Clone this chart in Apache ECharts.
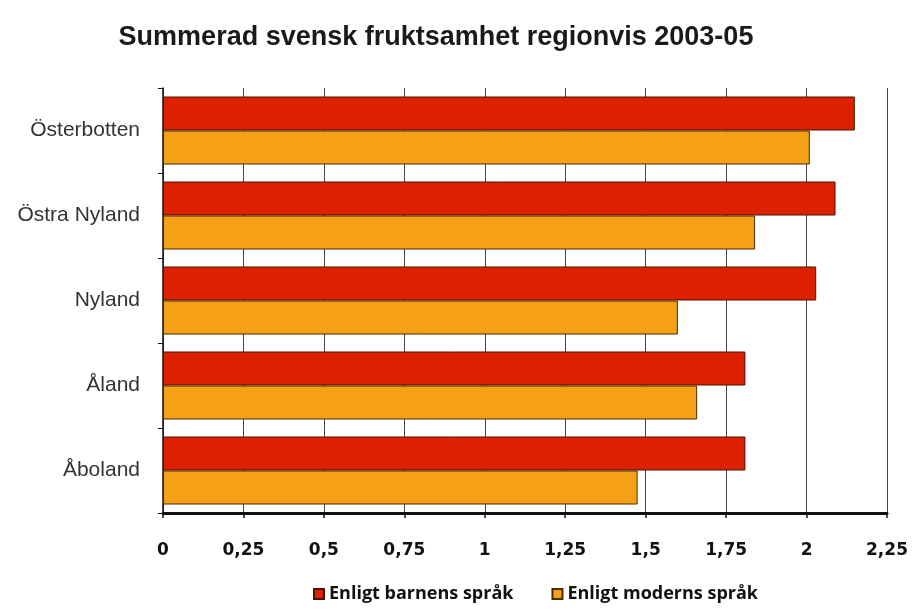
<!DOCTYPE html>
<html lang="sv">
<head>
    <meta charset="UTF-8">
    <title>Summerad svensk fruktsamhet regionvis 2003-05</title>
    <style>
        html, body { margin: 0; padding: 0; background: #fff; }
        #chart { width: 918px; height: 615px; }
    </style>
</head>
<body>
<div id="chart"></div>
<script src="https://cdn.jsdelivr.net/npm/echarts@6/dist/echarts.min.js"></script>
<script type="text/javascript">
    // data
    var regions = ['Österbotten', 'Östra Nyland', 'Nyland', 'Åland', 'Åboland'];
    var barnensSprak = [2.15, 2.09, 2.03, 1.81, 1.81];
    var modernsSprak = [2.01, 1.84, 1.60, 1.66, 1.475];
    var seriesNames = ['Enligt barnens språk', 'Enligt moderns språk'];

    var chart = echarts.init(document.getElementById('chart'));
    var option = {
        backgroundColor: '#fff',
        animation: false,
        title: {
            text: 'Summerad svensk fruktsamhet regionvis 2003-05',
            left: 431,
            textAlign: 'center',
            top: 19,
            textStyle: {
                fontFamily: 'Liberation Sans',
                fontWeight: 'bold',
                fontSize: 27,
                color: '#1a1a1a'
            }
        },
        legend: {
            bottom: 7,
            left: 308,
            itemWidth: 10,
            itemHeight: 10,
            itemGap: 38,
            icon: 'rect',
            textStyle: {
                fontFamily: 'Open Sans',
                fontWeight: 'bold',
                fontSize: 18,
                color: '#111'
            },
            data: seriesNames
        },
        grid: {
            left: 163,
            right: 31,
            top: 88,
            bottom: 102
        },
        xAxis: {
            type: 'value',
            min: 0,
            max: 2.25,
            interval: 0.25,
            axisLine: { show: true, lineStyle: { color: '#111', width: 3 } },
            axisTick: { show: true, length: 5, lineStyle: { color: '#111', width: 1.5 } },
            splitLine: { show: true, lineStyle: { color: '#444', width: 1 } },
            axisLabel: {
                margin: 29,
                fontFamily: 'DejaVu Sans',
                fontWeight: 'bold',
                fontSize: 17,
                color: '#111',
                formatter: function (v) { return String(v).replace('.', ','); }
            }
        },
        yAxis: {
            type: 'category',
            inverse: true,
            data: regions,
            axisLine: { show: true, lineStyle: { color: '#111', width: 1.5 } },
            axisTick: { show: true, length: 5, lineStyle: { color: '#111' } },
            axisLabel: {
                margin: 23,
                fontFamily: 'Liberation Sans',
                fontSize: 21,
                color: '#333'
            }
        },
        series: [
            {
                name: seriesNames[0],
                type: 'bar',
                data: barnensSprak,
                barGap: '0%',
                barCategoryGap: '20%',
                itemStyle: { color: '#dd2000', borderColor: '#4a1200', borderWidth: 1 }
            },
            {
                name: seriesNames[1],
                type: 'bar',
                data: modernsSprak,
                itemStyle: { color: '#f5a016', borderColor: '#4a2a00', borderWidth: 1 }
            }
        ]
    };
    chart.setOption(option);
</script>
</body>
</html>
